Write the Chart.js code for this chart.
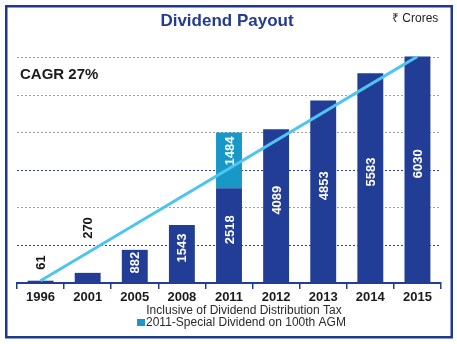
<!DOCTYPE html>
<html>
<head>
<meta charset="utf-8">
<script src="https://cdn.jsdelivr.net/npm/chart.js@4.4.1/dist/chart.umd.min.js"></script>
<style>
  html, body { margin: 0; padding: 0; background: #fff; }
  #wrap { position: relative; width: 457px; height: 344px; }
</style>
</head>
<body>
<div id="wrap"><canvas id="myChart" width="457" height="344"></canvas></div>
<script>
// data (Rs crores)
var years = ['1996', '2001', '2005', '2008', '2011', '2012', '2013', '2014', '2015'];
var payout = [61, 270, 882, 1543, 2518, 4089, 4853, 5583, 6030];
var specialDividend = [null, null, null, null, 1484, null, null, null, null];
var cagrLine = [61, null, null, null, null, null, null, null, 6030];
var gridTicks = [1000, 2000, 3000, 4000, 5000, 6000];

var navy = '#223d96';
var cyan = '#1798c6';
var lineBlue = '#4fc4f0';
var font = '"Liberation Sans", Arial, Helvetica, sans-serif';

// little lift for the two labels that sit above their bars
var outsideLift = { 0: 11, 1: 34 };

var valueLabels = {
    id: 'valueLabels',
    afterDatasetsDraw: function (chart) {
        var ctx = chart.ctx;
        ctx.save();
        ctx.font = 'bold 13px ' + font;
        ctx.textAlign = 'center';
        ctx.textBaseline = 'middle';

        function vtext(txt, x, cy, color) {
            ctx.save();
            ctx.fillStyle = color;
            ctx.translate(x, cy);
            ctx.rotate(-Math.PI / 2);
            ctx.fillText(txt, 0, 1);
            ctx.restore();
        }

        chart.getDatasetMeta(1).data.forEach(function (bar, i) {
            var txt = String(payout[i]);
            var w = ctx.measureText(txt).width;
            if (outsideLift[i] !== undefined) {
                vtext(txt, bar.x, bar.y - outsideLift[i] - w / 2, '#161616');
            } else {
                var h = bar.base - bar.y;
                var lift = Math.min(6, (h - w) / 2 - 2);
                vtext(txt, bar.x, (bar.y + bar.base) / 2 - lift, '#fff');
            }
        });

        chart.getDatasetMeta(2).data.forEach(function (bar, i) {
            if (specialDividend[i] == null) return;
            var txt = String(specialDividend[i]);
            var w = ctx.measureText(txt).width;
            vtext(txt, bar.x, bar.y + 4 + w / 2, '#fff');
        });
        ctx.restore();
    }
};

var decorations = {
    id: 'decorations',
    beforeDraw: function (chart) {
        var ctx = chart.ctx;
        ctx.save();
        ctx.fillStyle = '#fff';
        ctx.fillRect(0, 0, chart.width, chart.height);
        ctx.restore();
    },
    afterDraw: function (chart) {
        var ctx = chart.ctx;
        ctx.save();
        ctx.textBaseline = 'middle';

        ctx.fillStyle = '#233b94';
        ctx.font = 'bold 17px ' + font;
        ctx.textAlign = 'center';
        ctx.fillText('Dividend Payout', 227, 21);

        ctx.fillStyle = '#222';
        ctx.font = '12px ' + font;
        ctx.textAlign = 'left';
        ctx.fillText('\u20b9 Crores', 392, 18.5);

        ctx.fillStyle = '#1a1a1a';
        ctx.font = 'bold 15px ' + font;
        ctx.fillText('CAGR 27%', 20, 75);

        ctx.fillStyle = '#2a2a2a';
        ctx.font = '12px ' + font;
        ctx.textAlign = 'center';
        ctx.fillText('Inclusive of Dividend Distribution Tax', 244, 310.5);
        ctx.textAlign = 'left';
        ctx.fillText('2011-Special Dividend on 100th AGM', 146, 322.5);
        ctx.fillStyle = cyan;
        ctx.fillRect(137, 319, 8, 7);

        ctx.strokeStyle = '#20398f';
        ctx.lineWidth = 2.5;
        ctx.strokeRect(6.25, 6.25, 445.5, 331);
        ctx.restore();
    }
};

const ctx = document.getElementById('myChart');

new Chart(ctx, {
    data: {
        labels: years,
        datasets: [{
            type: 'line',
            label: 'CAGR',
            data: cagrLine,
            spanGaps: true,
            borderColor: lineBlue,
            borderWidth: 3,
            pointRadius: 0,
            stack: 'trend',
            order: 0
        }, {
            type: 'bar',
            label: 'Dividend',
            data: payout,
            backgroundColor: navy,
            stack: 'div',
            order: 1
        }, {
            type: 'bar',
            label: 'Special Dividend',
            data: specialDividend,
            backgroundColor: cyan,
            stack: 'div',
            order: 1
        }]
    },
    options: {
        responsive: false,
        animation: false,
        devicePixelRatio: 1,
        layout: { padding: { top: 56, left: 0, right: 16, bottom: 0 } },
        datasets: {
            bar: { barPercentage: 0.55, categoryPercentage: 1 }
        },
        plugins: {
            legend: { display: false },
            tooltip: { enabled: false }
        },
        scales: {
            x: {
                stacked: true,
                afterFit: function (scale) { scale.height = 61; },
                border: { display: true, color: navy, width: 2 },
                grid: {
                    drawOnChartArea: false,
                    drawTicks: true,
                    tickLength: 6,
                    color: navy,
                    lineWidth: 1.5
                },
                ticks: {
                    padding: 1,
                    color: '#1a1a1a',
                    font: { family: font, size: 13, weight: 'bold' }
                }
            },
            y: {
                stacked: true,
                min: 0,
                max: 6040,
                afterFit: function (scale) { scale.width = 17; },
                afterBuildTicks: function (scale) {
                    scale.ticks = gridTicks.map(function (v) { return { value: v }; });
                },
                border: { display: false, dash: [2, 2] },
                grid: {
                    drawTicks: false,
                    lineWidth: 1,
                    color: function (c) {
                        var v = c.tick ? c.tick.value : 0;
                        return (v === 1000 || v === 3000) ? '#2c3f8c' : '#9a9cae';
                    }
                },
                ticks: { display: false }
            }
        }
    },
    plugins: [decorations, valueLabels]
});
</script>
</body>
</html>
